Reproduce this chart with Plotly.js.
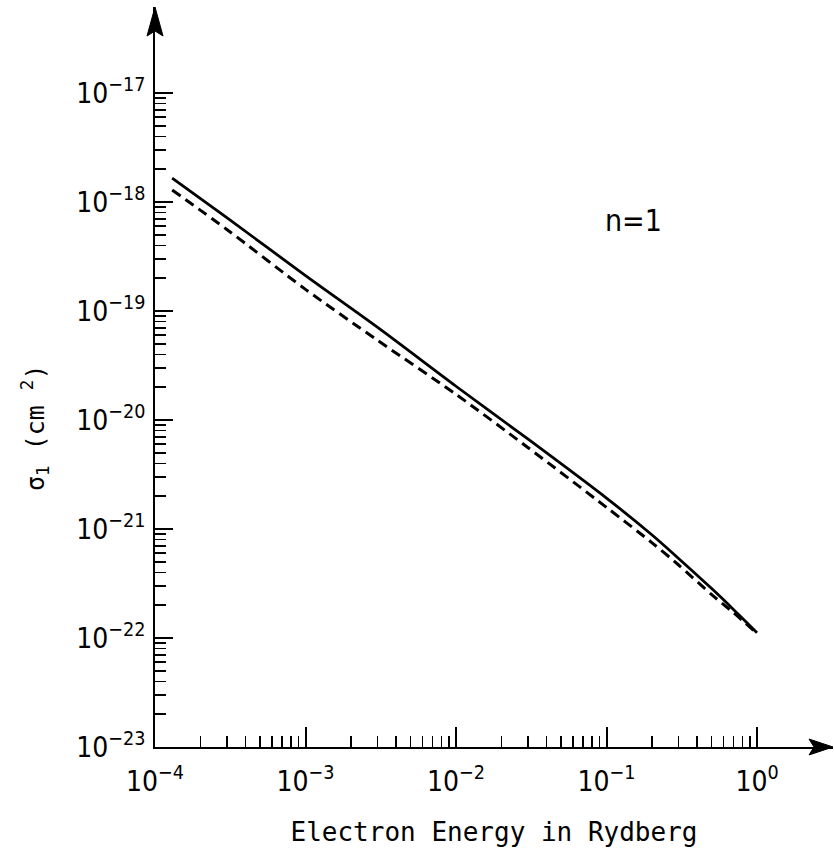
<!DOCTYPE html>
<html>
<head>
<meta charset="utf-8">
<script src="https://cdn.plot.ly/plotly-3.0.1.min.js"></script>
<style>html,body{margin:0;padding:0;background:#fff;}#chart{width:834px;height:857px;}</style>
</head>
<body>
<div id="chart"></div>
<script>
// Electron energy (Rydberg)
const energy = [1.3e-4, 3e-4, 1e-3, 3e-3, 1e-2, 3e-2, 0.1, 0.2, 0.3, 0.5, 0.7, 1.0];
// sigma_1 (cm^2), solid curve
const sigmaSolid = [1.66e-18, 7.2e-19, 2.11e-19, 7.1e-20, 2.04e-20, 6.7e-21, 1.92e-21, 8.85e-22, 5.4e-22, 2.84e-22, 1.82e-22, 1.12e-22];
// sigma_1 (cm^2), dashed curve
const sigmaDashed = [1.29e-18, 5.6e-19, 1.58e-19, 5.4e-20, 1.72e-20, 5.6e-21, 1.58e-21, 7.5e-22, 4.7e-22, 2.5e-22, 1.70e-22, 1.10e-22];

const xTickVals = [1e-4, 1e-3, 1e-2, 1e-1, 1e0];
const xTickText = ['10<sup>\u22124</sup>', '10<sup>\u22123</sup>', '10<sup>\u22122</sup>', '10<sup>\u22121</sup>', '10<sup>0</sup>'];
const yTickVals = [1e-23, 1e-22, 1e-21, 1e-20, 1e-19, 1e-18, 1e-17];
const yTickText = ['10<sup>\u221223</sup>', '10<sup>\u221222</sup>', '10<sup>\u221221</sup>', '10<sup>\u221220</sup>', '10<sup>\u221219</sup>', '10<sup>\u221218</sup>', '10<sup>\u221217</sup>'];
const minorMult = [2, 3, 4, 5, 6, 7, 8, 9];
const xMinorDecades = [1e-4, 1e-3, 1e-2, 1e-1];
const yMinorDecades = [1e-23, 1e-22, 1e-21, 1e-20, 1e-19, 1e-18];

const xMinor = [];
xMinorDecades.forEach(d => minorMult.forEach(m => xMinor.push(m * d)));
const yMinor = [];
yMinorDecades.forEach(d => minorMult.forEach(m => yMinor.push(m * d)));

const FONT = '"Liberation Sans Narrow", "DejaVu Sans Condensed", "DejaVu Sans", sans-serif';
const TFONT = '"DejaVu Sans Mono", monospace';

const traces = [
  {x: energy, y: sigmaSolid, type: 'scatter', mode: 'lines', name: 'solid',
   line: {color: '#000', width: 2.8, shape: 'spline', smoothing: 0.8}},
  {x: energy, y: sigmaDashed, type: 'scatter', mode: 'lines', name: 'dashed',
   line: {color: '#000', width: 3, dash: '10px,6px', shape: 'spline', smoothing: 0.8}}
];

const layout = {
  width: 834, height: 857,
  margin: {l: 155, r: 1, t: 7, b: 110},
  paper_bgcolor: '#fff', plot_bgcolor: '#fff',
  showlegend: false,
  font: {family: FONT, color: '#000', size: 26},
  xaxis: {
    type: 'log', range: [-4, 0.505],
    showgrid: false, zeroline: false,
    showline: true, linecolor: '#000', linewidth: 2,
    ticks: 'inside', ticklen: 20, tickwidth: 2, tickcolor: '#000',
    tickmode: 'array', tickvals: xTickVals, ticktext: xTickText,
    tickfont: {family: FONT, size: 28, color: '#000'},
    ticklabelstandoff: 8,
    minor: {tickmode: 'array', tickvals: xMinor, ticks: 'inside', ticklen: 11, tickwidth: 1.5, tickcolor: '#000', showgrid: false},
    title: {text: 'Electron Energy in Rydberg', font: {family: TFONT, size: 26, color: '#000'}, standoff: 26}
  },
  yaxis: {
    type: 'log', range: [-23, -16.211],
    showgrid: false, zeroline: false,
    showline: true, linecolor: '#000', linewidth: 2,
    ticks: 'inside', ticklen: 18, tickwidth: 2, tickcolor: '#000',
    tickmode: 'array', tickvals: yTickVals, ticktext: yTickText,
    tickfont: {family: FONT, size: 28, color: '#000'},
    ticklabelstandoff: 2,
    minor: {tickmode: 'array', tickvals: yMinor, ticks: 'inside', ticklen: 11, tickwidth: 1.5, tickcolor: '#000', showgrid: false}
  },
  annotations: [
    {xref: 'paper', yref: 'paper', x: 0, y: 0, xshift: -120, yshift: 319,
     text: '\u03c3<sub>1</sub> (cm <sup>2</sup>)', textangle: -90, showarrow: false,
     font: {family: TFONT, size: 25, color: '#000'}, xanchor: 'center', yanchor: 'middle'},
    {xref: 'paper', yref: 'paper', x: 0, y: 0, xshift: 478, yshift: 527,
     text: 'n=1', showarrow: false,
     font: {family: FONT, size: 30, color: '#000'}, xanchor: 'center', yanchor: 'middle'}
  ],
  shapes: [
    {type: 'path', xref: 'paper', yref: 'paper', xsizemode: 'pixel', ysizemode: 'pixel',
     xanchor: 1, yanchor: 0, path: 'M0,0 L-24,8 L-19,0 L-24,-8 Z',
     fillcolor: '#000', line: {color: '#000', width: 1}},
    {type: 'path', xref: 'paper', yref: 'paper', xsizemode: 'pixel', ysizemode: 'pixel',
     xanchor: 0, yanchor: 1, path: 'M0,0 L-8,-29 L0,-24 L8,-29 Z',
     fillcolor: '#000', line: {color: '#000', width: 1}}
  ]
};

Plotly.newPlot('chart', traces, layout, {staticPlot: true, displayModeBar: false});
</script>
</body>
</html>
